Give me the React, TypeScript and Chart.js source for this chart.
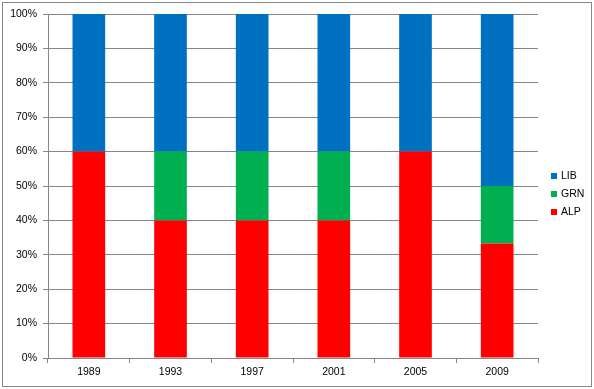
import React, { useEffect, useRef } from "react";
import { Chart, registerables } from "chart.js";

Chart.register(...registerables);

const categories = ["1989", "1993", "1997", "2001", "2005", "2009"];
const alp = [60, 40, 40, 40, 60, 33.3];
const grn = [0, 20, 20, 20, 0, 16.7];
const lib = [40, 40, 40, 40, 40, 50];
const seriesNames = ["ALP", "GRN", "LIB"];
const seriesColors = ["#FF0000", "#00B050", "#0070C0"];

const FONT = "'Liberation Sans', Arial, sans-serif";
const GRID = "#868686";

const framePlugin = {
  id: "frame",
  afterDraw(chart: any) {
    const ctx = chart.ctx;
    ctx.save();
    ctx.strokeStyle = "#888888";
    ctx.lineWidth = 1;
    ctx.strokeRect(2.5, 2.5, 589, 384);
    ctx.restore();
  },
};

const legendPlugin = {
  id: "customLegend",
  afterDraw(chart: any) {
    const ctx = chart.ctx;
    const ds = chart.data.datasets.slice().reverse();
    ctx.save();
    ctx.font = `10.5px ${FONT}`;
    ctx.textBaseline = "middle";
    ctx.textAlign = "left";
    ds.forEach((d: any, i: number) => {
      const cy = 176 + i * 18;
      ctx.fillStyle = d.backgroundColor;
      ctx.fillRect(551, cy - 3, 6, 6);
      ctx.fillStyle = "#000000";
      ctx.fillText(d.label, 561, cy + 0.5);
    });
    ctx.restore();
  },
};

export default function App() {
  const ref = useRef<HTMLCanvasElement | null>(null);
  useEffect(() => {
    if (!ref.current) return;
    const values = [alp, grn, lib];
    const chart = new Chart(ref.current, {
      type: "bar",
      data: {
        labels: categories,
        datasets: values.map((v, i) => ({
          label: seriesNames[i],
          data: v,
          backgroundColor: seriesColors[i],
          borderWidth: 0,
          barPercentage: 0.4,
          categoryPercentage: 1,
        })),
      },
      options: {
        responsive: false,
        animation: false,
        layout: { padding: { left: 0, top: 14, right: 56, bottom: 0 } },
        plugins: { legend: { display: false }, tooltip: { enabled: false } },
        scales: {
          x: {
            stacked: true,
            afterFit: (s: any) => {
              s.height = 31;
            },
            grid: {
              offset: true,
              drawOnChartArea: false,
              drawTicks: true,
              tickLength: 5,
              color: GRID,
            },
            border: { display: true, color: GRID },
            ticks: {
              color: "#000000",
              font: { family: FONT, size: 10.5 },
              padding: 3,
            },
          },
          y: {
            stacked: true,
            min: 0,
            max: 100,
            afterFit: (s: any) => {
              s.width = 48;
            },
            grid: {
              drawOnChartArea: true,
              drawTicks: true,
              tickLength: 5,
              color: GRID,
            },
            border: { display: true, color: GRID },
            ticks: {
              stepSize: 10,
              color: "#000000",
              font: { family: FONT, size: 10.5 },
              padding: 6,
              callback: (v: any) => v + "%",
            },
          },
        },
      },
      plugins: [framePlugin, legendPlugin],
    });
    return () => chart.destroy();
  }, []);
  return (
    <div style={{ position: "absolute", left: 0, top: 0, width: 594, height: 389, background: "#fff" }}>
      <canvas ref={ref} width={594} height={389} />
    </div>
  );
}
